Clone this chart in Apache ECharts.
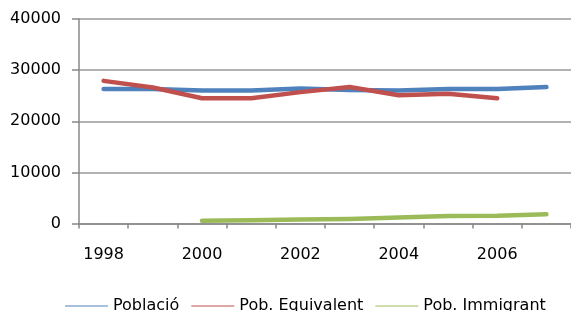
<!DOCTYPE html>
<html><head><meta charset="utf-8">
<script src="https://cdn.jsdelivr.net/npm/echarts@6/dist/echarts.min.js"></script>
<style>html,body{margin:0;padding:0;background:#fff}#c{width:571px;height:311px}</style>
</head><body><div id="c"></div>
<script>
var years = ['1998','1999','2000','2001','2002','2003','2004','2005','2006','2007'];
var poblacio = [26300, 26300, 26000, 26000, 26400, 26100, 26000, 26300, 26300, 26700];
var pobEquivalent = [27900, 26600, 24500, 24500, 25700, 26700, 25100, 25400, 24500, null];
var pobImmigrant = [null, null, 550, 650, 800, 900, 1150, 1450, 1500, 1800];
var yTicks = [0, 10000, 20000, 30000, 40000];
var seriesNames = ['Població', 'Pob. Equivalent', 'Pob. Immigrant'];
var colors = ['#4F81BD', '#C0504D', '#9BBB59'];

var font = 'DejaVu Sans';
var chart = echarts.init(document.getElementById('c'), null, {renderer: 'canvas'});
function mk(name, data, color) {
  return {name: name, type: 'line', data: data, symbol: 'none', color: color,
    lineStyle: {width: 4.5, color: color, cap: 'round', join: 'round'}, connectNulls: false, animation: false};
}
chart.setOption({
  animation: false,
  grid: {left: 79, right: -1, top: 19, bottom: 87.5, containLabel: false},
  legend: {
    bottom: -8, left: 60, itemWidth: 43, itemHeight: 10, itemGap: 12,
    textStyle: {fontFamily: font, fontSize: 16, color: '#000'},
    data: seriesNames.map(function(n){return {name: n, icon: 'path://M0,0 L43,0 L43,1 L0,1 Z'};})
  },
  xAxis: {
    type: 'category', data: years, boundaryGap: true,
    axisLine: {lineStyle: {color: '#888', width: 1.5}},
    axisTick: {show: true, interval: 0, length: 5, lineStyle: {color: '#888', width: 1.5}},
    axisLabel: {interval: 1, margin: 23, fontFamily: font, fontSize: 16, color: '#000'},
    splitLine: {show: false}
  },
  yAxis: {
    type: 'value', min: yTicks[0], max: yTicks[yTicks.length-1], interval: 10000,
    axisLine: {show: true, lineStyle: {color: '#888', width: 1.5}},
    axisTick: {show: true, length: 7, inside: false, lineStyle: {color: '#888', width: 1.5}},
    axisLabel: {margin: 18, fontFamily: font, fontSize: 16, color: '#000', formatter: function(v){return String(v);}},
    splitLine: {show: true, lineStyle: {color: '#999', width: 1.5}}
  },
  series: [mk(seriesNames[0], poblacio, colors[0]), mk(seriesNames[1], pobEquivalent, colors[1]), mk(seriesNames[2], pobImmigrant, colors[2])]
});
</script></body></html>
